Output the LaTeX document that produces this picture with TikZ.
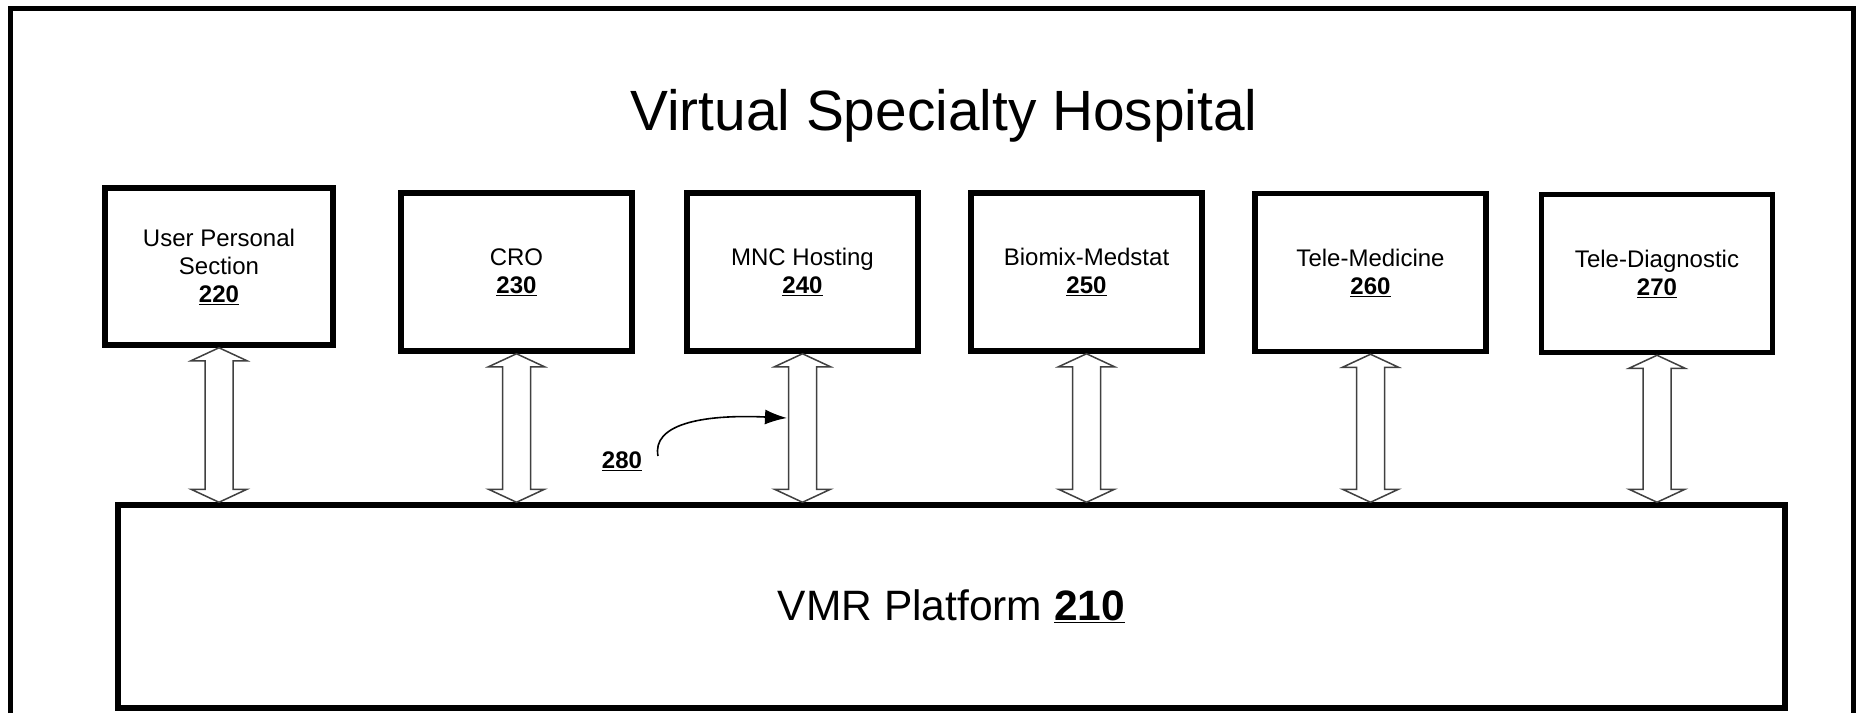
\documentclass[tikz,border=0pt]{standalone}
\usepackage{fontspec}
\setmainfont{Liberation Sans}
\usetikzlibrary{arrows.meta,calc}
\newcommand{\refnum}[1]{\textbf{\underline{#1}}}
\newcommand{\busarrow}[1]{%
  \path[busarrowbody] let \p1=(#1.south), \p2=(vmr.north) in
    (\x1,\y1) -- (\x1+28pt,\y1-13pt) -- (\x1+14pt,\y1-13pt) --
    (\x1+14pt,\y2+13pt) -- (\x1+28pt,\y2+13pt) -- (\x1,\y2) --
    (\x1-28pt,\y2+13pt) -- (\x1-14pt,\y2+13pt) -- (\x1-14pt,\y1-13pt) --
    (\x1-28pt,\y1-13pt) -- cycle;}
\begin{document}
\begin{tikzpicture}[x=1pt,y=1pt,
  framelines/.style={line width=5pt},
  unitbox/.style={draw, line width=5.5pt, minimum width=231pt, minimum height=158pt,
    align=center, inner sep=0pt, font=\fontsize{24}{28}\selectfont},
  platform/.style={draw, line width=5.5pt, minimum width=1667pt, minimum height=203pt,
    inner sep=0pt, font=\fontsize{42.5}{48}\selectfont},
  busarrowbody/.style={draw=black!75, line width=1.5pt, fill=white, line join=miter},
  pointer/.style={-{Latex[length=22pt,width=15pt]}, line width=1.6pt}
]
\useasboundingbox (0,0) rectangle (1860,-713);
\fill[white] (0,0) rectangle (1860,-713);
% outer frame
\draw[framelines] (10,-713) -- (10,-8) -- (1853,-8) -- (1853,-713);
% title
\node[anchor=base, font=\fontsize{56.8}{62}\selectfont] (title) at (944,-130) {Virtual Specialty Hospital};
% module boxes
\node[unitbox, minimum width=228pt, minimum height=157pt] (b220) at (219,-266.5) {User Personal\\Section\\\refnum{220}};
\node[unitbox] (b230) at (516.5,-272) {CRO\\\refnum{230}};
\node[unitbox] (b240) at (802.5,-272) {MNC Hosting\\\refnum{240}};
\node[unitbox] (b250) at (1086.5,-272) {Biomix-Medstat\\\refnum{250}};
\node[unitbox] (b260) at (1370.5,-272.5) {Tele-Medicine\\\refnum{260}};
\node[unitbox] (b270) at (1657,-273.5) {Tele-Diagnostic\\\refnum{270}};
% platform
\node[platform] (vmr) at (951.5,-606.5) {VMR Platform \refnum{210}};
% bus arrows
\busarrow{b220}
\busarrow{b230}
\busarrow{b240}
\busarrow{b250}
\busarrow{b260}
\busarrow{b270}
% label 280
\node[font=\fontsize{24}{28}\selectfont] (l280) at (622,-461) {\refnum{280}};
\coordinate (s280) at (658,-456);
\coordinate (t280) at (787,-418);
\draw[pointer] (s280) .. controls (652,-425) and (700,-414) .. (t280);
\end{tikzpicture}
\end{document}
